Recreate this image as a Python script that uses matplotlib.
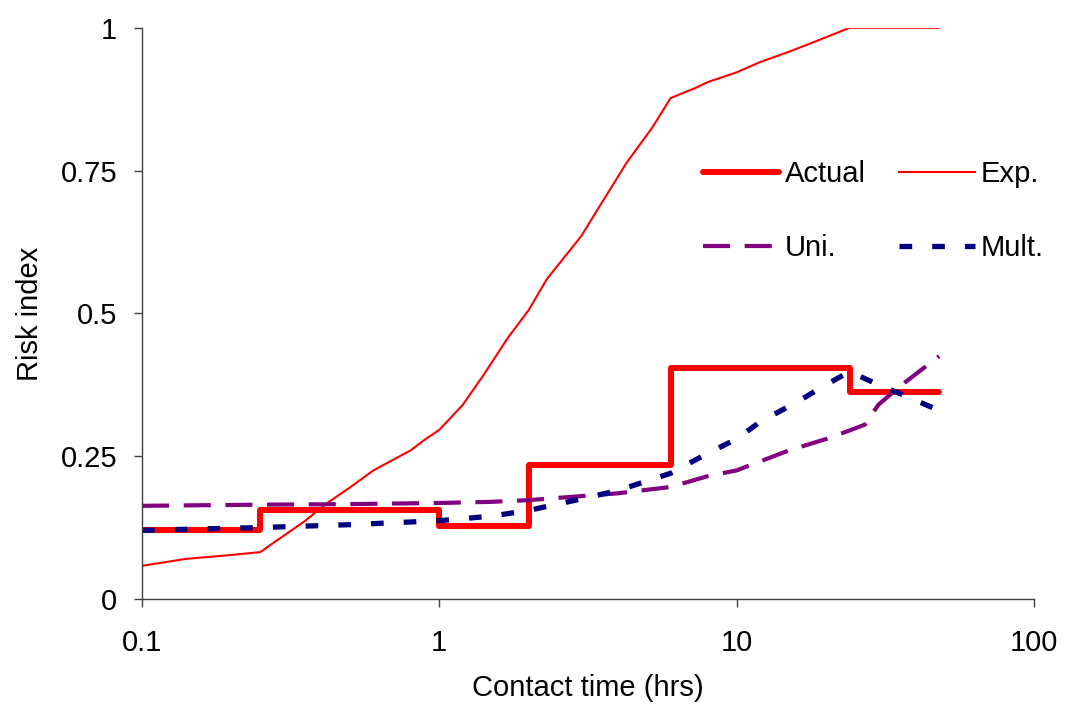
import numpy as np
import matplotlib.pyplot as plt
from matplotlib.ticker import FixedLocator, FixedFormatter, NullLocator

plt.rcParams['font.family'] = ['Liberation Sans', 'DejaVu Sans']

# Actual (step values start at each x)
act_x = [0.1, 0.25, 1, 2, 6, 24, 48]
act_y = [0.12, 0.155, 0.127, 0.235, 0.405, 0.362, 0.362]

# Exp.
exp_x = [0.1, 0.14, 0.2, 0.25, 0.28, 0.35, 0.42, 0.5, 0.6, 0.8, 0.9, 1.0,
         1.2, 1.4, 1.7, 2.0, 2.3, 3.0, 3.4, 4.27, 5.2, 6.0, 7.3, 8.0, 10, 12,
         15, 18, 24, 48]
exp_y = [0.058, 0.07, 0.077, 0.082, 0.1, 0.135, 0.168, 0.195, 0.225, 0.26,
         0.28, 0.296, 0.34, 0.39, 0.457, 0.506, 0.56, 0.635, 0.681, 0.764,
         0.825, 0.877, 0.895, 0.905, 0.922, 0.94, 0.958, 0.974, 1.0, 1.0]

# Uni.
uni_x = [0.1, 0.25, 0.5, 1, 1.5, 2, 3, 4, 6, 8, 10, 15, 20, 24, 27, 30, 36, 48]
uni_y = [0.163, 0.165, 0.166, 0.168, 0.17, 0.173, 0.18, 0.185, 0.196, 0.215,
         0.225, 0.26, 0.28, 0.295, 0.305, 0.34, 0.375, 0.425]

# Mult.
mult_x = [0.1, 0.25, 0.5, 1, 1.5, 2, 3, 4, 6, 8, 10, 12, 16, 20, 24, 30, 36, 48]
mult_y = [0.12, 0.125, 0.13, 0.137, 0.145, 0.155, 0.175, 0.19, 0.22, 0.255,
          0.28, 0.31, 0.345, 0.375, 0.398, 0.375, 0.358, 0.33]

fig = plt.figure(figsize=(10.68, 7.13), dpi=100)
ax = fig.add_axes([0.133, 0.16, 0.835, 0.801])

l_act, = ax.plot(act_x, act_y, color='#FF0000', lw=4.3, drawstyle='steps-post',
                 solid_capstyle='round', label='Actual')
l_exp, = ax.plot(exp_x, exp_y, color='#FF0000', lw=1.5, label='Exp.')
l_uni, = ax.plot(uni_x, uni_y, color='#800080', lw=3.0, dashes=(6.5, 3.5), label='Uni.')
l_mult, = ax.plot(mult_x, mult_y, color='#000080', lw=3.8, dashes=(2.4, 3.8), label='Mult.')

ax.set_xscale('log')
ax.set_xlim(0.1, 100)
ax.set_ylim(0, 1)
ax.xaxis.set_major_locator(FixedLocator([0.1, 1, 10, 100]))
ax.xaxis.set_major_formatter(FixedFormatter(['0.1', '1', '10', '100']))
ax.xaxis.set_minor_locator(NullLocator())
ax.set_yticks([0, 0.25, 0.5, 0.75, 1])
ax.set_yticklabels(['0', '0.25', '0.5', '0.75', '1'])

for s in ['top', 'right']:
    ax.spines[s].set_visible(False)
for s in ['left', 'bottom']:
    ax.spines[s].set_color('#404040')
    ax.spines[s].set_linewidth(1.0)
ax.tick_params(direction='out', length=6, width=1, colors='#404040',
               labelcolor='black', labelsize=21)
ax.tick_params(axis='x', pad=16)
ax.tick_params(axis='y', pad=12)

ax.set_xlabel('Contact time (hrs)', fontsize=21, labelpad=12)
ax.set_ylabel('Risk index', fontsize=21, labelpad=12)

# row-major order: Actual, Exp. / Uni., Mult.
ax.legend([l_act, l_uni, l_exp, l_mult], ['Actual', 'Uni.', 'Exp.', 'Mult.'],
          ncol=2, frameon=False, fontsize=21, loc='upper left',
          bbox_to_anchor=(0.629, 0.769), borderaxespad=0, borderpad=0,
          handlelength=2.6, handletextpad=0.2, columnspacing=1.15,
          labelspacing=1.6)

fig.savefig('out.png', dpi=100)
